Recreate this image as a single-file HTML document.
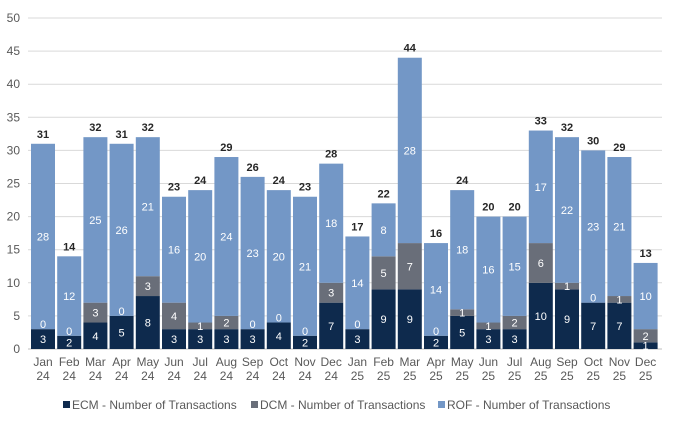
<!DOCTYPE html>
<html><head><meta charset="utf-8"><style>
body{margin:0;background:#fff;}
svg{font-family:"Liberation Sans",sans-serif;}
</style></head><body>
<svg id="chart" width="678" height="422"></svg>
<script>
const months=["Jan 24","Feb 24","Mar 24","Apr 24","May 24","Jun 24","Jul 24","Aug 24","Sep 24","Oct 24","Nov 24","Dec 24","Jan 25","Feb 25","Mar 25","Apr 25","May 25","Jun 25","Jul 25","Aug 25","Sep 25","Oct 25","Nov 25","Dec 25"];
const ecm=[3,2,4,5,8,3,3,3,3,4,2,7,3,9,9,2,5,3,3,10,9,7,7,1];
const dcm=[0,0,3,0,3,4,1,2,0,0,0,3,0,5,7,0,1,1,2,6,1,0,1,2];
const rof=[28,12,25,26,21,16,20,24,23,20,21,18,14,8,28,14,18,16,15,17,22,23,21,10];
const yTicks=[0,5,10,15,20,25,30,35,40,45,50];
const NS="http://www.w3.org/2000/svg";
const svg=document.getElementById('chart');
const y0=349,y1=18,yMax=50;
const y=v=>y0-(y0-y1)*v/yMax;
const x0=31,step=26.2,bw=24;
const x=i=>x0+i*step;
function mk(t,a,txt){const e=document.createElementNS(NS,t);for(const k in a)e.setAttribute(k,a[k]);if(txt!==undefined)e.textContent=txt;svg.appendChild(e);return e;}
yTicks.forEach(t=>{
  const g=mk('line',{x1:28,x2:662,y1:y(t),y2:y(t),stroke:t===0?'#bfbfbf':'#d9d9d9','stroke-width':1});
  
  
  const l=mk('text',{x:20,y:y(t)+4,'text-anchor':'end','font-size':12,fill:'#595959'},t);
  
  
});
const series=[[ecm,'#0e2a4d','ecm'],[dcm,'#696e79','dcm'],[rof,'#7397c6','rof']];
months.forEach((m,i)=>{
  let base=0;
  series.forEach(([arr,col,nm])=>{
    const v=arr[i];
    const r=mk('rect',{x:x(i),y:y(base+v),width:bw,height:y(base)-y(base+v),fill:col});
    
    
    base+=v;
  });
});
months.forEach((m,i)=>{
  let base=0;
  series.forEach(([arr,col,nm])=>{
    const v=arr[i];
    const off=v===0?-1:4;
    const lt=mk('text',{x:x(i)+bw/2,y:(y(base)+y(base+v))/2+off,'text-anchor':'middle','font-size':11,fill:'#fff'},v);
    
    
    base+=v;
  });
  const tt=mk('text',{x:x(i)+bw/2,y:y(base)-6,'text-anchor':'middle','font-size':11,'font-weight':'bold',fill:'#262626'},base);
  
  
  const p=m.split(' ');
  const a=mk('text',{x:x(i)+bw/2,y:366,'text-anchor':'middle','font-size':12,fill:'#595959'},p[0]);
  
  
  const b=mk('text',{x:x(i)+bw/2,y:380,'text-anchor':'middle','font-size':12,fill:'#595959'},p[1]);
  
  
});
const leg=[['ECM - Number of Transactions','#0e2a4d',63],['DCM - Number of Transactions','#696e79',251],['ROF - Number of Transactions','#7397c6',438]];
leg.forEach(([t,c,lx])=>{
  const r=mk('rect',{x:lx,y:401,width:7,height:7,fill:c});
  
  
  const tx=mk('text',{x:lx+9,y:409,'font-size':12,fill:'#595959'},t);
  
  
});
</script>
</body></html>
